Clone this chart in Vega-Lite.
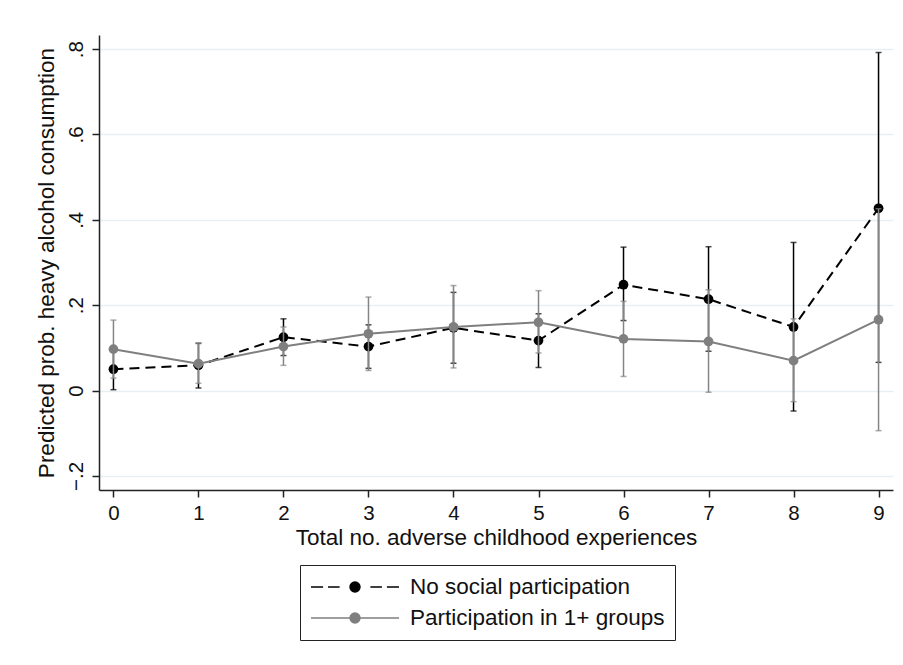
{
  "$schema": "https://vega.github.io/schema/vega-lite/v6.json",
  "width": 794,
  "height": 455,
  "autosize": {"type": "none"},
  "padding": {"left": 99, "top": 35, "right": 10, "bottom": 175},
  "background": "white",
  "config": {
    "view": {"stroke": null},
    "font": "Liberation Sans",
    "axis": {
      "domainColor": "#222",
      "domainWidth": 1.5,
      "tickColor": "#222",
      "tickWidth": 1.5,
      "tickSize": 7,
      "labelColor": "#111",
      "titleColor": "#111",
      "labelFont": "Liberation Sans",
      "titleFont": "Liberation Sans",
      "labelFontSize": 20.5,
      "titleFontSize": 22.5,
      "titleFontWeight": "normal"
    }
  },
  "data": {
    "values": [
      {"x": 0, "group": "No social participation", "p": 0.050, "lo": 0.002, "hi": 0.098},
      {"x": 1, "group": "No social participation", "p": 0.059, "lo": 0.006, "hi": 0.111},
      {"x": 2, "group": "No social participation", "p": 0.125, "lo": 0.082, "hi": 0.168},
      {"x": 3, "group": "No social participation", "p": 0.103, "lo": 0.052, "hi": 0.154},
      {"x": 4, "group": "No social participation", "p": 0.147, "lo": 0.064, "hi": 0.230},
      {"x": 5, "group": "No social participation", "p": 0.117, "lo": 0.054, "hi": 0.180},
      {"x": 6, "group": "No social participation", "p": 0.248, "lo": 0.164, "hi": 0.336},
      {"x": 7, "group": "No social participation", "p": 0.214, "lo": 0.092, "hi": 0.337},
      {"x": 8, "group": "No social participation", "p": 0.149, "lo": -0.048, "hi": 0.347},
      {"x": 9, "group": "No social participation", "p": 0.427, "lo": 0.066, "hi": 0.792},
      {"x": 0, "group": "Participation in 1+ groups", "p": 0.097, "lo": 0.029, "hi": 0.165},
      {"x": 1, "group": "Participation in 1+ groups", "p": 0.063, "lo": 0.017, "hi": 0.110},
      {"x": 2, "group": "Participation in 1+ groups", "p": 0.103, "lo": 0.059, "hi": 0.149},
      {"x": 3, "group": "Participation in 1+ groups", "p": 0.133, "lo": 0.047, "hi": 0.219},
      {"x": 4, "group": "Participation in 1+ groups", "p": 0.149, "lo": 0.053, "hi": 0.246},
      {"x": 5, "group": "Participation in 1+ groups", "p": 0.160, "lo": 0.088, "hi": 0.234},
      {"x": 6, "group": "Participation in 1+ groups", "p": 0.121, "lo": 0.033, "hi": 0.209},
      {"x": 7, "group": "Participation in 1+ groups", "p": 0.115, "lo": -0.004, "hi": 0.236},
      {"x": 8, "group": "Participation in 1+ groups", "p": 0.070, "lo": -0.026, "hi": 0.168},
      {"x": 9, "group": "Participation in 1+ groups", "p": 0.166, "lo": -0.094, "hi": 0.426}
    ]
  },
  "encoding": {
    "x": {
      "field": "x",
      "type": "quantitative",
      "scale": {"domain": [-0.17, 9.17], "nice": false, "zero": false},
      "axis": {
        "title": "Total no. adverse childhood experiences",
        "values": [0, 1, 2, 3, 4, 5, 6, 7, 8, 9],
        "grid": false,
        "labelPadding": 6,
        "titlePadding": 3
      }
    }
  },
  "layer": [
    {
      "transform": [{"filter": "datum.group == 'No social participation'"}],
      "mark": {"type": "rule", "color": "#000", "strokeWidth": 1.5},
      "encoding": {
        "y": {
          "field": "lo",
          "type": "quantitative",
          "scale": {"domain": [-0.233, 0.833], "nice": false, "zero": false},
          "axis": {
            "title": "Predicted prob. heavy alcohol consumption",
            "values": [-0.2, 0, 0.2, 0.4, 0.6, 0.8],
            "labelExpr": "datum.value == 0 ? '0' : replace(format(datum.value, '.1f'), '0.', '.')",
            "labelAngle": -90,
            "labelAlign": "center",
            "labelBaseline": "bottom",
            "labelPadding": 6,
            "titlePadding": 8,
            "grid": true,
            "gridColor": "#e6f0f2",
            "gridWidth": 1.5
          }
        },
        "y2": {"field": "hi"}
      }
    },
    {
      "transform": [{"filter": "datum.group == 'No social participation'"}],
      "mark": {"type": "tick", "orient": "horizontal", "size": 6, "thickness": 1.5, "color": "#000"},
      "encoding": {"y": {"field": "lo", "type": "quantitative"}}
    },
    {
      "transform": [{"filter": "datum.group == 'No social participation'"}],
      "mark": {"type": "tick", "orient": "horizontal", "size": 6, "thickness": 1.5, "color": "#000"},
      "encoding": {"y": {"field": "hi", "type": "quantitative"}}
    },
    {
      "transform": [{"filter": "datum.group == 'No social participation'"}],
      "mark": {"type": "line", "color": "#000", "strokeWidth": 2, "strokeDash": [10, 6]},
      "encoding": {"y": {"field": "p", "type": "quantitative"}}
    },
    {
      "transform": [{"filter": "datum.group == 'No social participation'"}],
      "mark": {"type": "circle", "color": "#000", "size": 95, "opacity": 1},
      "encoding": {"y": {"field": "p", "type": "quantitative"}}
    },
    {
      "transform": [{"filter": "datum.group == 'Participation in 1+ groups'"}],
      "mark": {"type": "rule", "color": "#858585", "strokeWidth": 1.5},
      "encoding": {"y": {"field": "lo", "type": "quantitative"}, "y2": {"field": "hi"}}
    },
    {
      "transform": [{"filter": "datum.group == 'Participation in 1+ groups'"}],
      "mark": {"type": "tick", "orient": "horizontal", "size": 6, "thickness": 1.5, "color": "#858585"},
      "encoding": {"y": {"field": "lo", "type": "quantitative"}}
    },
    {
      "transform": [{"filter": "datum.group == 'Participation in 1+ groups'"}],
      "mark": {"type": "tick", "orient": "horizontal", "size": 6, "thickness": 1.5, "color": "#858585"},
      "encoding": {"y": {"field": "hi", "type": "quantitative"}}
    },
    {
      "transform": [{"filter": "datum.group == 'Participation in 1+ groups'"}],
      "mark": {"type": "line", "color": "#7f7f7f", "strokeWidth": 2},
      "encoding": {"y": {"field": "p", "type": "quantitative"}}
    },
    {
      "transform": [{"filter": "datum.group == 'Participation in 1+ groups'"}],
      "mark": {"type": "circle", "color": "#7f7f7f", "size": 95, "opacity": 1},
      "encoding": {"y": {"field": "p", "type": "quantitative"}}
    },
    {
      "transform": [{"filter": "datum.x == 0"}],
      "mark": {"type": "point", "filled": true, "opacity": 0},
      "encoding": {
        "y": {"field": "p", "type": "quantitative"},
        "fill": {
          "field": "group",
          "type": "nominal",
          "scale": {
            "domain": ["No social participation", "Participation in 1+ groups"],
            "range": ["#000000", "#7f7f7f"]
          }
        },
        "stroke": {
          "field": "group",
          "type": "nominal",
          "scale": {
            "domain": ["No social participation", "Participation in 1+ groups"],
            "range": ["#000000", "#7f7f7f"]
          }
        },
        "shape": {
          "field": "group",
          "type": "nominal",
          "scale": {
            "domain": ["No social participation", "Participation in 1+ groups"],
            "range": [
              "M-4,0H-2.9M-2.45,0H-1.4M1.4,0H2.45M2.9,0H4M0.45,0A0.45,0.45 0 1,1 -0.45,0A0.45,0.45 0 1,1 0.45,0Z",
              "M-4,0H4M0.45,0A0.45,0.45 0 1,1 -0.45,0A0.45,0.45 0 1,1 0.45,0Z"
            ]
          },
          "legend": {
            "title": null,
            "orient": "none",
            "legendX": 201,
            "legendY": 530,
            "direction": "vertical",
            "strokeColor": "#222",
            "padding": 10,
            "symbolSize": 484,
            "symbolStrokeWidth": 1.5,
            "symbolOpacity": 1,
            "symbolOffset": 33,
            "labelOffset": 43,
            "labelFontSize": 22.5,
            "labelFont": "Liberation Sans",
            "labelColor": "#111",
            "labelLimit": 400,
            "labelExpr": "datum.label + '\u00a0\u00a0\u00a0\u00a0'",
            "rowPadding": 7
          }
        }
      }
    }
  ]
}
